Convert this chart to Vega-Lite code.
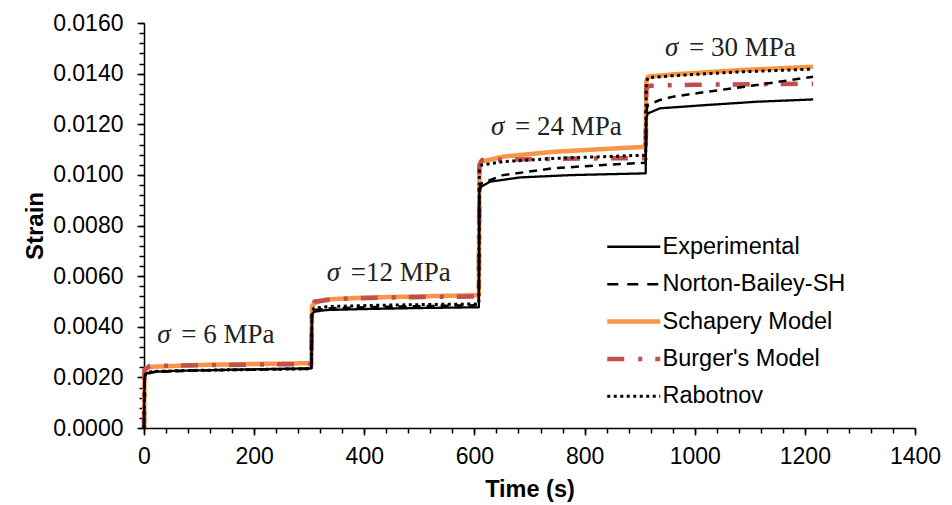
{
  "$schema": "https://vega.github.io/schema/vega-lite/v6.json",
  "autosize": "none",
  "width": 771,
  "height": 405,
  "padding": {"left": 144, "top": 23, "right": 37, "bottom": 77},
  "background": "white",
  "config": {
    "view": {"stroke": null},
    "font": "Liberation Sans",
    "axis": {"grid": false, "domainColor": "black", "tickColor": "black", "labelColor": "black", "titleColor": "black", "domainWidth": 1.5, "tickWidth": 1.5},
    "legend": {"orient": "none", "legendX": 478, "legendY": 212, "padding": 0, "symbolType": "stroke", "symbolSize": 2809, "labelFont": "Liberation Sans", "labelFontSize": 23.5, "labelColor": "black", "labelLimit": 400, "rowPadding": 12.4, "labelOffset": 17}
  },
  "datasets": {
    "d": [
      {"s": "Experimental", "t": 0, "e": 0}, {"s": "Experimental", "t": 1, "e": 0.002}, {"s": "Experimental", "t": 4, "e": 0.00216}, {"s": "Experimental", "t": 15, "e": 0.00222}, {"s": "Experimental", "t": 60, "e": 0.00226}, {"s": "Experimental", "t": 150, "e": 0.0023}, {"s": "Experimental", "t": 230, "e": 0.00233}, {"s": "Experimental", "t": 304, "e": 0.00236},
      {"s": "Experimental", "t": 305, "e": 0.0045}, {"s": "Experimental", "t": 309, "e": 0.00459}, {"s": "Experimental", "t": 330, "e": 0.00466}, {"s": "Experimental", "t": 400, "e": 0.0047}, {"s": "Experimental", "t": 500, "e": 0.00474}, {"s": "Experimental", "t": 608, "e": 0.00477},
      {"s": "Experimental", "t": 609, "e": 0.00935}, {"s": "Experimental", "t": 612, "e": 0.00953}, {"s": "Experimental", "t": 628, "e": 0.00973}, {"s": "Experimental", "t": 683, "e": 0.0099}, {"s": "Experimental", "t": 774, "e": 0.00999}, {"s": "Experimental", "t": 850, "e": 0.01003}, {"s": "Experimental", "t": 911, "e": 0.01006},
      {"s": "Experimental", "t": 912, "e": 0.01225}, {"s": "Experimental", "t": 915, "e": 0.01243}, {"s": "Experimental", "t": 937, "e": 0.01263}, {"s": "Experimental", "t": 1022, "e": 0.01276}, {"s": "Experimental", "t": 1113, "e": 0.01289}, {"s": "Experimental", "t": 1215, "e": 0.01298},
      {"s": "Norton-Bailey-SH", "t": 0, "e": 0}, {"s": "Norton-Bailey-SH", "t": 1, "e": 0.002}, {"s": "Norton-Bailey-SH", "t": 4, "e": 0.00214}, {"s": "Norton-Bailey-SH", "t": 20, "e": 0.00221}, {"s": "Norton-Bailey-SH", "t": 80, "e": 0.00226}, {"s": "Norton-Bailey-SH", "t": 180, "e": 0.0023}, {"s": "Norton-Bailey-SH", "t": 304, "e": 0.00234},
      {"s": "Norton-Bailey-SH", "t": 305, "e": 0.00455}, {"s": "Norton-Bailey-SH", "t": 309, "e": 0.00466}, {"s": "Norton-Bailey-SH", "t": 340, "e": 0.00473}, {"s": "Norton-Bailey-SH", "t": 420, "e": 0.00478}, {"s": "Norton-Bailey-SH", "t": 520, "e": 0.00482}, {"s": "Norton-Bailey-SH", "t": 608, "e": 0.00485},
      {"s": "Norton-Bailey-SH", "t": 609, "e": 0.00945}, {"s": "Norton-Bailey-SH", "t": 613, "e": 0.00967}, {"s": "Norton-Bailey-SH", "t": 652, "e": 0.00999}, {"s": "Norton-Bailey-SH", "t": 743, "e": 0.01026}, {"s": "Norton-Bailey-SH", "t": 834, "e": 0.01039}, {"s": "Norton-Bailey-SH", "t": 911, "e": 0.01048},
      {"s": "Norton-Bailey-SH", "t": 912, "e": 0.01255}, {"s": "Norton-Bailey-SH", "t": 915, "e": 0.01276}, {"s": "Norton-Bailey-SH", "t": 937, "e": 0.01296}, {"s": "Norton-Bailey-SH", "t": 961, "e": 0.01309}, {"s": "Norton-Bailey-SH", "t": 1022, "e": 0.01328}, {"s": "Norton-Bailey-SH", "t": 1113, "e": 0.01355}, {"s": "Norton-Bailey-SH", "t": 1215, "e": 0.01388},
      {"s": "Schapery Model", "t": 0, "e": 0}, {"s": "Schapery Model", "t": 1, "e": 0.00225}, {"s": "Schapery Model", "t": 4, "e": 0.00236}, {"s": "Schapery Model", "t": 15, "e": 0.00242}, {"s": "Schapery Model", "t": 100, "e": 0.00249}, {"s": "Schapery Model", "t": 200, "e": 0.00253}, {"s": "Schapery Model", "t": 304, "e": 0.00256},
      {"s": "Schapery Model", "t": 305, "e": 0.0048}, {"s": "Schapery Model", "t": 309, "e": 0.00493}, {"s": "Schapery Model", "t": 330, "e": 0.00508}, {"s": "Schapery Model", "t": 400, "e": 0.00515}, {"s": "Schapery Model", "t": 500, "e": 0.0052}, {"s": "Schapery Model", "t": 608, "e": 0.00525},
      {"s": "Schapery Model", "t": 609, "e": 0.0103}, {"s": "Schapery Model", "t": 612, "e": 0.01052}, {"s": "Schapery Model", "t": 652, "e": 0.01072}, {"s": "Schapery Model", "t": 743, "e": 0.01091}, {"s": "Schapery Model", "t": 834, "e": 0.01102}, {"s": "Schapery Model", "t": 911, "e": 0.01111},
      {"s": "Schapery Model", "t": 912, "e": 0.0137}, {"s": "Schapery Model", "t": 915, "e": 0.01388}, {"s": "Schapery Model", "t": 961, "e": 0.01397}, {"s": "Schapery Model", "t": 1082, "e": 0.01414}, {"s": "Schapery Model", "t": 1215, "e": 0.01427},
      {"s": "Burger's Model", "t": 0, "e": 0}, {"s": "Burger's Model", "t": 1, "e": 0.0023}, {"s": "Burger's Model", "t": 10, "e": 0.00245}, {"s": "Burger's Model", "t": 60, "e": 0.00247}, {"s": "Burger's Model", "t": 150, "e": 0.00249}, {"s": "Burger's Model", "t": 304, "e": 0.00253},
      {"s": "Burger's Model", "t": 305, "e": 0.00485}, {"s": "Burger's Model", "t": 310, "e": 0.005}, {"s": "Burger's Model", "t": 350, "e": 0.0051}, {"s": "Burger's Model", "t": 450, "e": 0.00516}, {"s": "Burger's Model", "t": 608, "e": 0.0052},
      {"s": "Burger's Model", "t": 609, "e": 0.0104}, {"s": "Burger's Model", "t": 614, "e": 0.01059}, {"s": "Burger's Model", "t": 700, "e": 0.01062}, {"s": "Burger's Model", "t": 800, "e": 0.01065}, {"s": "Burger's Model", "t": 911, "e": 0.01066},
      {"s": "Burger's Model", "t": 912, "e": 0.0134}, {"s": "Burger's Model", "t": 917, "e": 0.01352}, {"s": "Burger's Model", "t": 1000, "e": 0.01356}, {"s": "Burger's Model", "t": 1100, "e": 0.01358}, {"s": "Burger's Model", "t": 1215, "e": 0.0136},
      {"s": "Rabotnov", "t": 0, "e": 0}, {"s": "Rabotnov", "t": 1, "e": 0.00205}, {"s": "Rabotnov", "t": 4, "e": 0.00218}, {"s": "Rabotnov", "t": 20, "e": 0.00224}, {"s": "Rabotnov", "t": 100, "e": 0.00228}, {"s": "Rabotnov", "t": 200, "e": 0.00231}, {"s": "Rabotnov", "t": 304, "e": 0.00234},
      {"s": "Rabotnov", "t": 305, "e": 0.0046}, {"s": "Rabotnov", "t": 309, "e": 0.00474}, {"s": "Rabotnov", "t": 340, "e": 0.0048}, {"s": "Rabotnov", "t": 430, "e": 0.00485}, {"s": "Rabotnov", "t": 520, "e": 0.00488}, {"s": "Rabotnov", "t": 608, "e": 0.0049},
      {"s": "Rabotnov", "t": 609, "e": 0.0102}, {"s": "Rabotnov", "t": 613, "e": 0.01039}, {"s": "Rabotnov", "t": 652, "e": 0.01052}, {"s": "Rabotnov", "t": 743, "e": 0.01065}, {"s": "Rabotnov", "t": 834, "e": 0.01072}, {"s": "Rabotnov", "t": 911, "e": 0.01078},
      {"s": "Rabotnov", "t": 912, "e": 0.01365}, {"s": "Rabotnov", "t": 915, "e": 0.01384}, {"s": "Rabotnov", "t": 961, "e": 0.01392}, {"s": "Rabotnov", "t": 1082, "e": 0.01407}, {"s": "Rabotnov", "t": 1215, "e": 0.01418}
    ],
    "ann": [
      {"t": 24, "e": 0.00367, "rest": "= 6 MPa"},
      {"t": 332, "e": 0.00612, "rest": "=12 MPa"},
      {"t": 630, "e": 0.01189, "rest": "= 24 MPa"},
      {"t": 946, "e": 0.01501, "rest": "= 30 MPa"}
    ]
  },
  "layer": [
    {
      "encoding": {
        "x": {"field": "t", "type": "quantitative", "scale": {"domain": [0, 1400], "nice": false, "zero": false},
              "axis": {"values": [0, 200, 400, 600, 800, 1000, 1200, 1400], "format": "d", "tickSize": 7, "labelPadding": 10, "labelFontSize": 23, "labelFont": "Liberation Sans", "title": "Time (s)", "titleFontSize": 23.5, "titleFont": "Liberation Sans", "titleFontWeight": "bold", "titlePadding": 9, "orient": "bottom", "labelFlush": false}},
        "y": {"field": "e", "type": "quantitative", "scale": {"domain": [0, 0.016], "nice": false, "zero": false},
              "axis": {"values": [0, 0.002, 0.004, 0.006, 0.008, 0.01, 0.012, 0.014, 0.016], "format": ".4f", "tickSize": 7, "labelPadding": 14, "labelFontSize": 23, "labelFont": "Liberation Sans", "title": "Strain", "titleFontSize": 24, "titleFont": "Liberation Sans", "titleFontWeight": "bold", "titlePadding": 5, "orient": "left", "labelFlush": false}},
        "color": {"field": "s", "type": "nominal", "scale": {"domain": ["Experimental", "Norton-Bailey-SH", "Schapery Model", "Burger's Model", "Rabotnov"], "range": ["#000000", "#000000", "#F79646", "#C0504D", "#000000"]},
                  "legend": {"title": null, "encode": {"symbols": {"update": {"strokeWidth": {"signal": "datum.value === 'Schapery Model' ? 4.5 : datum.value === 'Rabotnov' ? 3 : datum.value === 'Experimental' ? 2.5 : datum.value === 'Norton-Bailey-SH' ? 2.5 : 4.5"}}}}}},
        "strokeDash": {"field": "s", "type": "nominal", "scale": {"domain": ["Experimental", "Norton-Bailey-SH", "Schapery Model", "Burger's Model", "Rabotnov"], "range": [[1, 0], [11, 9], [1, 0], [17, 14, 4, 13], [3, 3.5]]}, "legend": {"title": null}}
      },
      "layer": [
        {
          "data": {"name": "d"},
          "transform": [{"filter": "datum.s === 'Schapery Model'"}],
          "mark": {"type": "line", "strokeCap": "butt", "strokeJoin": "round", "strokeWidth": 4.5}
        },
        {
          "data": {"name": "d"},
          "transform": [{"filter": "datum.s === \"Burger's Model\""}],
          "mark": {"type": "line", "strokeCap": "butt", "strokeJoin": "round", "strokeWidth": 4.5}
        },
        {
          "data": {"name": "d"},
          "transform": [{"filter": "datum.s === 'Experimental'"}],
          "mark": {"type": "line", "strokeCap": "butt", "strokeJoin": "round", "strokeWidth": 2.3}
        },
        {
          "data": {"name": "d"},
          "transform": [{"filter": "datum.s === 'Norton-Bailey-SH'"}],
          "mark": {"type": "line", "strokeCap": "butt", "strokeJoin": "round", "strokeWidth": 2.5, "strokeDash": [8, 6]},
          "encoding": {"strokeDash": {"value": [8, 6]}}
        },
        {
          "data": {"name": "d"},
          "transform": [{"filter": "datum.s === 'Rabotnov'"}],
          "mark": {"type": "line", "strokeCap": "butt", "strokeJoin": "round", "strokeWidth": 3}
        }
      ]
    },
    {
      "data": {"name": "ann"},
      "mark": {"type": "text", "font": "Liberation Serif", "fontSize": 27, "align": "left", "baseline": "middle", "dx": 24, "color": "#222222"},
      "encoding": {
        "x": {"field": "t", "type": "quantitative", "scale": {"domain": [0, 1400], "nice": false, "zero": false}, "axis": null},
        "y": {"field": "e", "type": "quantitative", "scale": {"domain": [0, 0.016], "nice": false, "zero": false}, "axis": null},
        "text": {"field": "rest"}
      }
    },
    {
      "data": {"name": "ann"},
      "mark": {"type": "text", "text": "σ", "font": "Liberation Serif", "fontStyle": "italic", "fontSize": 27, "align": "left", "baseline": "middle", "color": "#222222"},
      "encoding": {
        "x": {"field": "t", "type": "quantitative", "scale": {"domain": [0, 1400], "nice": false, "zero": false},
              "axis": {"values": [0, 40, 80, 120, 160, 200, 240, 280, 320, 360, 400, 440, 480, 520, 560, 600, 640, 680, 720, 760, 800, 840, 880, 920, 960, 1000, 1040, 1080, 1120, 1160, 1200, 1240, 1280, 1320, 1360, 1400], "labels": false, "domain": false, "tickSize": 5, "title": null, "orient": "bottom"}},
        "y": {"field": "e", "type": "quantitative", "scale": {"domain": [0, 0.016], "nice": false, "zero": false},
              "axis": {"values": [0, 0.0004, 0.0008, 0.0012, 0.0016, 0.002, 0.0024, 0.0028, 0.0032, 0.0036, 0.004, 0.0044, 0.0048, 0.0052, 0.0056, 0.006, 0.0064, 0.0068, 0.0072, 0.0076, 0.008, 0.0084, 0.0088, 0.0092, 0.0096, 0.01, 0.0104, 0.0108, 0.0112, 0.0116, 0.012, 0.0124, 0.0128, 0.0132, 0.0136, 0.014, 0.0144, 0.0148, 0.0152, 0.0156, 0.016], "labels": false, "domain": false, "tickSize": 5, "title": null, "orient": "left"}}
      }
    }
  ],
  "resolve": {"axis": {"x": "independent", "y": "independent"}}
}
